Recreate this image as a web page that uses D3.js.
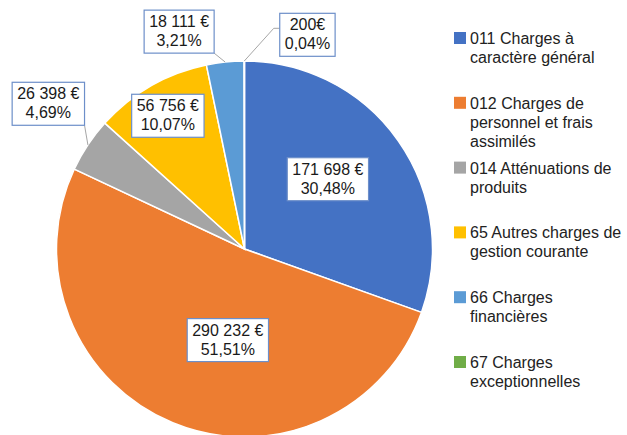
<!DOCTYPE html>
<html>
<head>
<meta charset="utf-8">
<script src="https://cdn.jsdelivr.net/npm/d3@7"></script>
<style>
  body { margin: 0; background: #fff; }
  text { font-family: "Liberation Sans", Arial, sans-serif; }
</style>
</head>
<body>
<div id="drawArea"></div>
<script>
// données du graphique
var categories = [
  ["011 Charges à", "caractère général"],
  ["012 Charges de", "personnel et frais", "assimilés"],
  ["014 Atténuations de", "produits"],
  ["65 Autres charges de", "gestion courante"],
  ["66 Charges", "financières"],
  ["67 Charges", "exceptionnelles"]
];
var values = [171698, 290232, 26398, 56756, 18111, 200];
var colors = ["#4472c4", "#ed7d31", "#a5a5a5", "#ffc000", "#5b9bd5", "#70ad47"];

// placement des étiquettes (décalage d'angle en degrés, facteur de rayon)
var labelLayout = [[-5, 0.58], [-12, 0.49], [3, 1.30], [0, 0.82], [-10.8, 1.21], [16.4, 1.19]];
var outside = [false, false, true, false, true, true];

var width = 627, height = 435;
var cx = 244.5, cy = 249, radius = 188;

var svg = d3.select("#drawArea")
  .append("svg")
  .attr("width", width)
  .attr("height", height);

var frLocale = d3.formatLocale({decimal: ",", thousands: " ", grouping: [3], currency: ["", " €"]});
var fmtVal = frLocale.format(",.0f");
var fmtPct = frLocale.format(".2f");
var total = d3.sum(values);

var data = values.map(function(v, i){ return {value: v, i: i}; });

var pie = d3.pie()
  .sort(null)
  .value(function(d){ return d.value; });

var arcs = pie(data);

var arc = d3.arc()
  .innerRadius(0)
  .outerRadius(radius);

var g = svg.append("g")
  .attr("transform", "translate(" + cx + "," + cy + ")");

g.selectAll("path.slice")
  .data(arcs)
  .enter()
  .append("path")
    .attr("class", "slice")
    .attr("d", arc)
    .attr("fill", function(d){ return colors[d.data.i]; })
    .attr("stroke", "#fff")
    .attr("stroke-width", 1.5);

// étiquettes
function polar(a, r){ return [r * Math.sin(a), -r * Math.cos(a)]; }

arcs.forEach(function(d){
  var i = d.data.i;
  var mid = (d.startAngle + d.endAngle) / 2;
  var lay = labelLayout[i];
  var p = polar(mid + lay[0] * Math.PI / 180, radius * lay[1]);

  var lg = g.append("g");
  var rect = lg.append("rect");
  var t = lg.append("text")
    .attr("text-anchor", "middle")
    .attr("font-size", 16)
    .attr("fill", "#1a1a1a");
  t.append("tspan").attr("x", p[0]).attr("y", p[1] - 4)
    .text(i == 5 ? fmtVal(d.value) + "€" : fmtVal(d.value) + " €");
  t.append("tspan").attr("x", p[0]).attr("y", p[1] + 15)
    .text(fmtPct(d.value / total * 100) + "%");

  var bb = t.node().getBBox();
  var bx = bb.x - 5, by = p[1] - 21, bw = bb.width + 10, bh = 43;
  rect.attr("x", bx).attr("y", by).attr("width", bw).attr("height", bh)
    .attr("fill", "#fff")
    .attr("stroke", "#6d8fc9")
    .attr("stroke-width", 1.2);

  if (outside[i]) {
    var e = polar(mid, radius);
    var nx = Math.max(bx, Math.min(e[0], bx + bw));
    var ny = Math.max(by, Math.min(e[1], by + bh));
    var pts = [[e[0], e[1]], [nx, ny]];
    if (e[0] < bx) { // coude vers le bord gauche
      pts = [[e[0], e[1]], [bx - 6, by + 15], [bx, by + 15]];
    }
    g.insert("path", "g")
      .attr("d", d3.line()(pts))
      .attr("fill", "none")
      .attr("stroke", "#a6a6a6")
      .attr("stroke-width", 1);
  }
});

// légende
var legend = svg.append("g")
  .attr("transform", "translate(454,38)");

var item = legend.selectAll("g.item")
  .data(categories)
  .enter()
  .append("g")
    .attr("class", "item")
    .attr("transform", function(d, i){ return "translate(0," + (i * 64.8) + ")"; });

item.append("rect")
  .attr("x", 0).attr("y", -6)
  .attr("width", 12).attr("height", 12)
  .attr("fill", function(d, i){ return colors[i]; });

item.append("text")
  .attr("font-size", 16)
  .attr("fill", "#222")
  .selectAll("tspan")
  .data(function(d){ return d; })
  .enter()
  .append("tspan")
    .attr("x", 16)
    .attr("y", function(d, j){ return 6 + j * 19; })
    .text(function(d){ return d; });
</script>
</body>
</html>
